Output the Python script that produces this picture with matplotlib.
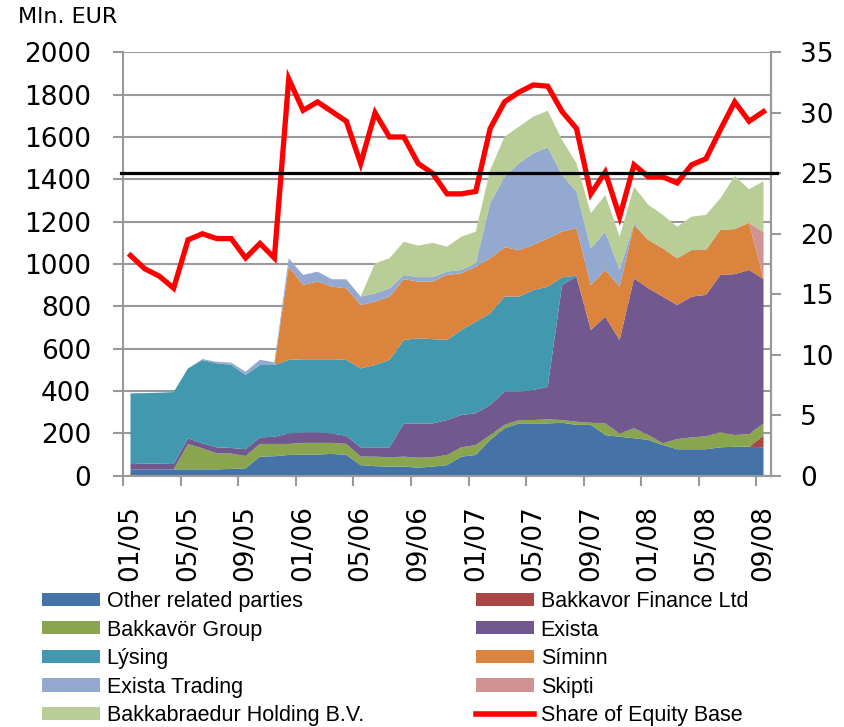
import numpy as np
import matplotlib
matplotlib.use('Agg')
import matplotlib.pyplot as plt
from matplotlib.patches import Patch
from matplotlib.lines import Line2D

plt.rcParams['font.family'] = ['DejaVu Sans']

# monthly, 01/05 .. 09/08
months = [f'{m:02d}/{y:02d}' for y in (5, 6, 7, 8) for m in range(1, 13)][:45]
tick_labels = ['01/05', '05/05', '09/05', '01/06', '05/06', '09/06',
               '01/07', '05/07', '09/07', '01/08', '05/08', '09/08']

# Mln. EUR
other = [30, 30, 30, 30, 30, 30, 30, 32, 35, 90, 92, 98, 100, 100, 103, 98, 50, 45, 43, 43,
         38, 43, 50, 90, 98, 169, 224, 247, 247, 247, 250, 240, 240, 192, 184, 177, 169, 145,
         125, 125, 125, 134, 137, 137, 134]
finance = [0] * 44 + [55]
group = [0, 0, 0, 0, 120, 99, 76, 72, 58, 60, 58, 52, 55, 55, 52, 52, 40, 45, 44, 47,
         47, 44, 48, 44, 47, 23, 16, 16, 16, 19, 13, 15, 10, 55, 15, 47, 23, 8,
         48, 56, 61, 72, 55, 60, 58]
exista = [25, 27, 27, 25, 27, 24, 28, 27, 32, 31, 34, 50, 50, 50, 45, 38, 44, 44, 47, 157,
          162, 160, 165, 153, 150, 142, 157, 134, 142, 154, 638, 685, 438, 504, 442, 708, 693, 693,
          633, 665, 668, 742, 760, 775, 682]
lysing = [334, 333, 335, 340, 330, 393, 397, 393, 351, 342, 339, 347, 345, 345, 350, 359, 373, 389, 413, 394,
          402, 398, 378, 401, 432, 433, 449, 449, 472, 473, 36, 5, 0, 0, 0, 0, 0, 0,
          0, 0, 0, 0, 0, 0, 0]
siminn = [0, 0, 0, 0, 0, 0, 0, 0, 0, 0, 0, 440, 351, 367, 343, 338, 299, 299, 299, 287,
          268, 272, 307, 268, 260, 260, 233, 220, 213, 228, 216, 224, 213, 221, 252, 252, 228, 228,
          221, 220, 212, 213, 213, 223, 0]
trading = [0, 0, 0, 0, 0, 5, 7, 10, 15, 25, 12, 40, 47, 47, 35, 43, 40, 39, 39, 20,
           21, 21, 16, 16, 16, 260, 333, 410, 433, 430, 267, 173, 173, 181, 79, 8, 0, 0,
           0, 0, 0, 0, 0, 0, 0]
skipti = [0] * 44 + [221]
bakkabr = [0, 0, 0, 0, 0, 0, 0, 0, 0, 0, 0, 0, 0, 0, 0, 0, 0, 142, 142, 157,
           149, 162, 118, 157, 150, 157, 189, 173, 173, 173, 166, 134, 166, 173, 157, 173, 166, 158,
           149, 158, 166, 149, 251, 158, 241]

# per cent
share = [18.2, 17.1, 16.5, 15.5, 19.5, 20.0, 19.6, 19.6, 18.0, 19.2, 18.0, 32.8, 30.2, 30.9, 30.1,
         29.3, 25.8, 30.0, 28.0, 28.0, 25.8, 25.0, 23.3, 23.3, 23.5, 28.7, 30.9, 31.7, 32.3, 32.2,
         30.1, 28.7, 23.3, 25.1, 21.4, 25.7, 24.7, 24.7, 24.2, 25.7, 26.2, 28.6, 30.9, 29.3, 30.1]
threshold = 25

names = ['Other related parties', 'Bakkavor Finance Ltd', 'Bakkavör Group', 'Exista', 'Lýsing',
         'Síminn', 'Exista Trading', 'Skipti', 'Bakkabraedur Holding B.V.']
colors = ['#4572A7', '#AA4643', '#89A54E', '#71588F', '#4198AF',
          '#DB843D', '#93A9CF', '#D19392', '#B9CD96']
grey = '#999999'

fig = plt.figure(figsize=(8.44, 7.27), dpi=100)
ax = fig.add_axes([123.3 / 844, 1 - 475.7 / 727, 647.4 / 844, 423.4 / 727])

x = np.arange(len(months))
ax.stackplot(x, other, finance, group, exista, lysing, siminn, trading, skipti, bakkabr,
             colors=colors, linewidth=0)
ax.set_xlim(-0.5, len(months) - 0.5)
ax.set_ylim(0, 2000)
ax.set_yticks(range(0, 2001, 200))
ax.yaxis.grid(True, color=grey, lw=1.5)
ax.set_axisbelow(True)

# tick marks between categories, labels on the months
ax.set_xticks([i - 0.5 for i in range(0, 45, 4)])
ax.set_xticklabels([])
ax.set_xticks([months.index(t) for t in tick_labels], minor=True)
ax.set_xticklabels(tick_labels, minor=True, rotation=90)
ax.tick_params(axis='x', which='major', direction='out', length=7, width=1.5, color=grey)
ax.tick_params(axis='x', which='minor', length=0, pad=21, labelsize=19)
ax.tick_params(axis='y', direction='out', length=7, width=1.5, color=grey, pad=16, labelsize=19)

for s in ['left', 'bottom', 'right']:
    ax.spines[s].set_color(grey)
    ax.spines[s].set_linewidth(1.5)
ax.spines['top'].set_visible(False)

ax2 = ax.twinx()
ax2.plot(x, share, color='#FF0000', lw=3.8, solid_joinstyle='miter', zorder=3)
ax2.axhline(threshold, xmin=-0.003, xmax=1.01, color='black', lw=2.3, clip_on=False, zorder=4)
ax2.set_ylim(0, 35)
ax2.set_yticks(range(0, 36, 5))
ax2.tick_params(axis='y', direction='out', length=7, width=1.5, color=grey, pad=14, labelsize=19)
for s in ['left', 'bottom', 'top']:
    ax2.spines[s].set_visible(False)
ax2.spines['right'].set_color(grey)
ax2.spines['right'].set_linewidth(1.5)

fig.text(18 / 844, 1 - 7 / 727, 'Mln. EUR', fontsize=16, va='top', ha='left')

# legend, two columns filled row by row
patches = [Patch(facecolor=c, edgecolor='none', label=n) for c, n in zip(colors, names)]
share_line = Line2D([], [], color='#FF0000', lw=4, label='Share of Equity Base')
left_col = [patches[0], patches[2], patches[4], patches[6], patches[8]]
right_col = [patches[1], patches[3], patches[5], patches[7], share_line]
leg_kw = dict(loc='upper left', frameon=False, borderpad=0, borderaxespad=0,
              handlelength=2.7, handleheight=0.56, handletextpad=0.3, labelspacing=0.35,
              prop={'family': 'Liberation Sans', 'size': 15.5})
fig.legend(handles=left_col, bbox_to_anchor=(42 / 844, 1 - 591 / 727), **leg_kw)
fig.legend(handles=right_col, bbox_to_anchor=(476 / 844, 1 - 591 / 727), **leg_kw)

fig.savefig('out.png', dpi=100)
